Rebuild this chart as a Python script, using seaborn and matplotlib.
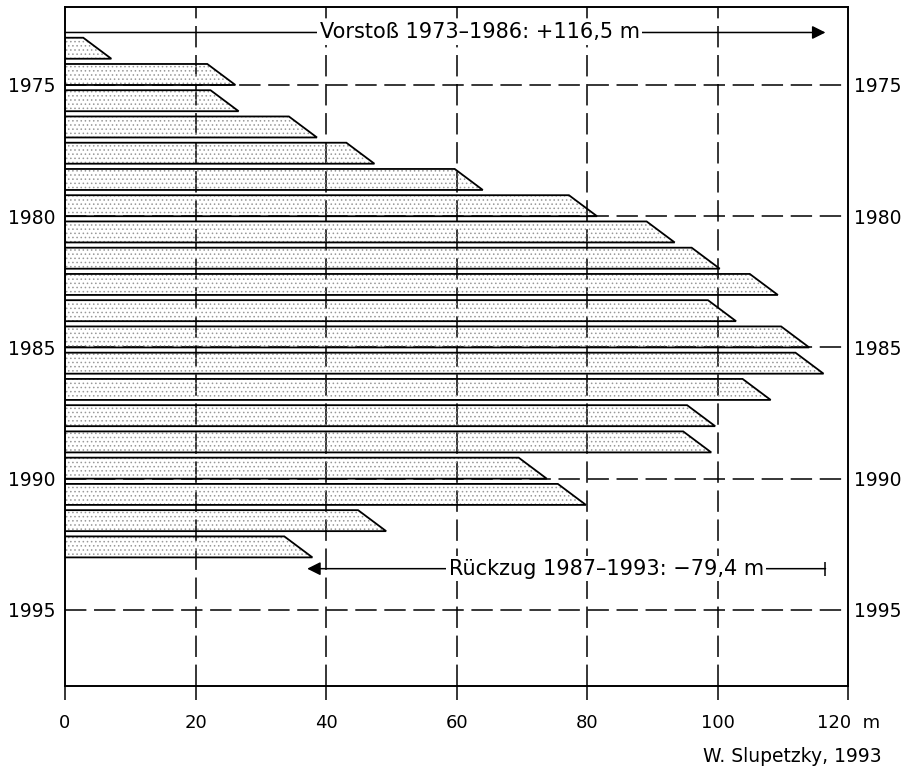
import numpy as np
import seaborn as sns
import matplotlib.pyplot as plt

# cumulative length change of the glacier front (m), end of each year
years = [1974, 1975, 1976, 1977, 1978, 1979, 1980, 1981, 1982, 1983,
         1984, 1985, 1986, 1987, 1988, 1989, 1990, 1991, 1992, 1993]
change = [7.1, 26.1, 26.6, 38.6, 47.4, 64.0, 81.5, 93.4, 100.3, 109.2,
          102.8, 114.0, 116.2, 108.1, 99.6, 99.0, 73.8, 79.8, 49.2, 37.9]

x_ticks = [0, 20, 40, 60, 80, 100, 120]
x_labels = ["0", "20", "40", "60", "80", "100", "120  m"]
y_ticks = [1975, 1980, 1985, 1990, 1995]

advance = 116.5
retreat = -79.4
advance_text = "Vorstoß 1973\u20131986: +116,5 m"
retreat_text = "Rückzug 1987\u20131993: \u221279,4 m"
credit = "W. Slupetzky, 1993"

sns.set_theme(style="white")
plt.rcParams["font.family"] = ["DejaVu Sans"]
plt.rcParams["text.color"] = "black"
plt.rcParams["xtick.color"] = "black"
plt.rcParams["ytick.color"] = "black"
plt.rcParams["hatch.linewidth"] = 0.6

fig = plt.figure(figsize=(9.05, 7.72), dpi=100)
ax = fig.add_axes([0.0718, 0.1114, 0.8656, 0.8795])

bar_h = 0.8      # bar thickness in years
slope = 4.3      # slanted bar end, in m
for yr, val in zip(years, change):
    xs = [0, val - slope, val, 0]
    ys = [yr - bar_h, yr - bar_h, yr, yr]
    ax.fill(xs, ys, facecolor="none", edgecolor="#999999", hatch="....",
            linewidth=0, zorder=2)
    ax.fill(xs, ys, facecolor="none", edgecolor="black", linewidth=1.3,
            zorder=3)

# dashed grid
for x in x_ticks[1:-1]:
    ax.axvline(x, color="black", lw=1.1, dashes=(14, 5), zorder=1)
for y in y_ticks:
    ax.axhline(y, color="black", lw=1.1, dashes=(14, 5), zorder=1)

ax.set_xlim(0, 120)
ax.set_ylim(1997.9, 1972.03)
ax.set_xticks(x_ticks)
ax.set_xticklabels(x_labels, fontsize=13)
ax.set_yticks(y_ticks)
ax.set_yticklabels([str(y) for y in y_ticks], fontsize=13.5)
ax.tick_params(axis="x", bottom=True, length=10, width=1.1, color="black",
               pad=10, direction="out")
ax.tick_params(axis="y", left=False, length=0, pad=7)

ax2 = ax.twinx()
ax2.set_ylim(ax.get_ylim())
ax2.set_yticks(y_ticks)
ax2.set_yticklabels([str(y) for y in y_ticks], fontsize=13.5)
ax2.tick_params(axis="y", right=False, length=0, pad=4)
ax2.grid(False)

for a in (ax, ax2):
    for s in a.spines.values():
        s.set_color("black")
        s.set_linewidth(1.2)

# advance arrow
y_adv = 1973.0
ax.annotate("", xy=(advance, y_adv), xytext=(0, y_adv),
            arrowprops=dict(arrowstyle="-|>", color="black", lw=1.1,
                            mutation_scale=20, shrinkA=0, shrinkB=0),
            zorder=4)
ax.text(63.5, y_adv, advance_text, fontsize=15, ha="center", va="center",
        bbox=dict(facecolor="white", edgecolor="none", pad=2), zorder=5)

# retreat arrow
y_ret = 1993.43
ax.annotate("", xy=(advance + retreat, y_ret), xytext=(advance, y_ret),
            arrowprops=dict(arrowstyle="-|>", color="black", lw=1.1,
                            mutation_scale=20, shrinkA=0, shrinkB=0),
            zorder=4)
ax.plot([advance], [y_ret], marker="|", markersize=10, color="black",
        markeredgewidth=1.1, zorder=4)
ax.text(82.9, y_ret, retreat_text, fontsize=15, ha="center", va="center",
        bbox=dict(facecolor="white", edgecolor="none", pad=2), zorder=5)

fig.text(882 / 905, 1 - 757 / 772, credit, fontsize=13.5, ha="right",
         va="center")

fig.savefig("out.png", dpi=100)
